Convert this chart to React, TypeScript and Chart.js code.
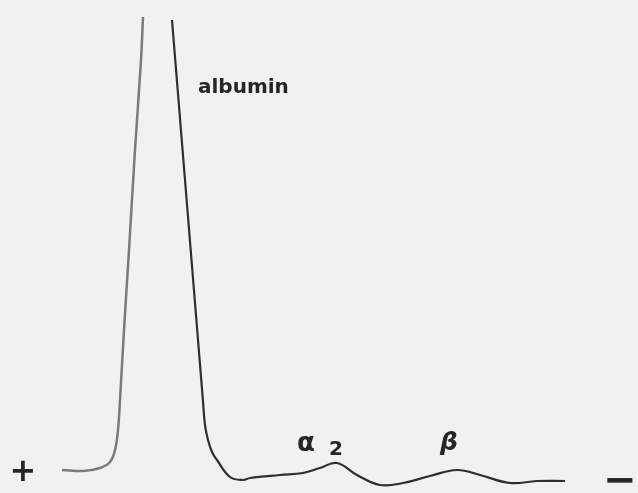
import React, { useEffect, useRef } from "react";
import { Chart, registerables } from "chart.js";

Chart.register(...registerables);

// Densitometer scan of a serum electrophoresis strip.
// Distance along the strip (mm) and relative optical density.
// The albumin apex runs off the recorder paper, so the trace is split in two.
const riseDistance = [6.2, 8.3, 10.0, 11.0, 11.5, 11.8, 12.0, 12.4, 12.9, 13.5, 14.1, 14.3];
const riseDensity = [0.8, 0.7, 1.0, 1.6, 2.8, 4.8, 7.8, 14.8, 22.8, 32.8, 41.8, 46.1];

const tailDistance = [
  17.2, 17.85, 18.5, 19.07, 19.64, 20.29, 20.5, 20.8, 21.2, 21.7, 23.0, 24.3, 25.0, 28.0,
  30.3, 32.0, 33.7, 35.7, 38.0, 40.3, 43.0, 45.7, 48.0, 51.0, 53.7, 56.5,
];
const tailDensity = [
  45.8, 37.8, 29.8, 22.8, 15.8, 7.8, 5.3, 3.8, 2.6, 1.8, 0.1, -0.2, 0.0, 0.3,
  0.5, 1.0, 1.5, 0.3, -0.7, -0.5, 0.2, 0.8, 0.3, -0.5, -0.3, -0.3,
];

// Fraction and electrode labels
const labelText = ["albumin", "α", "2", "β", "+", "−"];
const labelDistance = [19.8, 29.7, 32.9, 44.0, 2.3, 62.0];
const labelDensity = [38.5, 2.7, 2.3, 2.8, -0.3, -1.5];
const labelFont = [
  "bold 20px 'DejaVu Sans'",
  "bold 26px 'DejaVu Sans'",
  "bold 20px 'DejaVu Sans'",
  "italic bold 25px 'DejaVu Sans'",
  "bold 32px 'DejaVu Sans'",
  "bold 40px 'DejaVu Sans'",
];
const labelAlign: CanvasTextAlign[] = ["left", "left", "left", "left", "center", "center"];

const toPoints = (xs: number[], ys: number[]) => xs.map((x, i) => ({ x, y: ys[i] }));

const paperPlugin = {
  id: "paper",
  beforeDraw(chart: Chart) {
    const { ctx, width, height } = chart;
    ctx.save();
    ctx.fillStyle = "#f1f1f1";
    ctx.fillRect(0, 0, width, height);
    ctx.restore();
  },
};

const labelPlugin = {
  id: "fractionLabels",
  afterDatasetsDraw(chart: Chart) {
    const { ctx } = chart;
    const xs = chart.scales.x;
    const ys = chart.scales.y;
    ctx.save();
    ctx.fillStyle = "#262626";
    ctx.textBaseline = "alphabetic";
    labelText.forEach((t, i) => {
      ctx.font = labelFont[i];
      ctx.textAlign = labelAlign[i];
      ctx.fillText(t, xs.getPixelForValue(labelDistance[i]), ys.getPixelForValue(labelDensity[i]));
    });
    ctx.restore();
  },
};

export default function App() {
  const canvasRef = useRef<HTMLCanvasElement | null>(null);

  useEffect(() => {
    if (!canvasRef.current) return;
    const chart = new Chart(canvasRef.current, {
      type: "line",
      data: {
        datasets: [
          {
            data: toPoints(riseDistance, riseDensity),
            borderColor: "#7a7a7a",
            borderWidth: 2.5,
            pointRadius: 0,
            tension: 0.4,
          },
          {
            data: toPoints(tailDistance, tailDensity),
            borderColor: "#2e2e2e",
            borderWidth: 2.2,
            pointRadius: 0,
            tension: 0.4,
          },
        ],
      },
      options: {
        animation: false,
        responsive: false,
        devicePixelRatio: 1,
        layout: { padding: 0 },
        plugins: { legend: { display: false }, tooltip: { enabled: false } },
        scales: {
          x: { type: "linear", min: 0, max: 63.8, display: false },
          y: { type: "linear", min: -1.5, max: 47.8, display: false },
        },
      },
      plugins: [paperPlugin, labelPlugin],
    });
    return () => chart.destroy();
  }, []);

  return (
    <div style={{ position: "fixed", left: 0, top: 0, width: 638, height: 493, background: "#f1f1f1" }}>
      <canvas ref={canvasRef} width={638} height={493} style={{ display: "block" }} />
    </div>
  );
}
